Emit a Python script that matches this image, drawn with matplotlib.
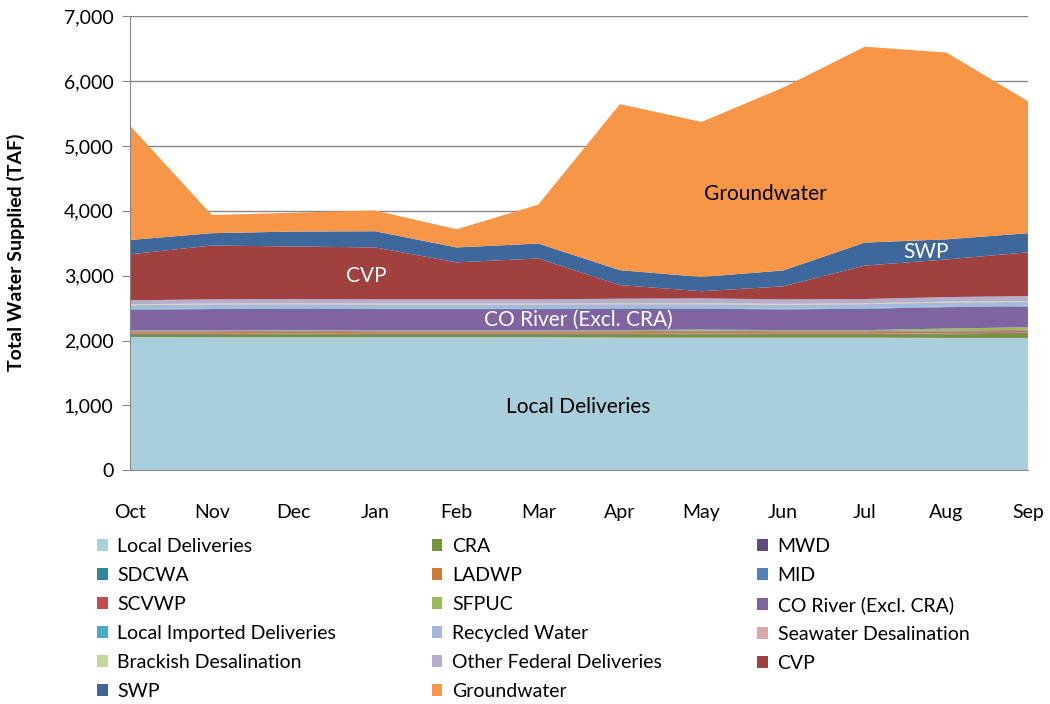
import matplotlib.pyplot as plt
import numpy as np

months = ["Oct", "Nov", "Dec", "Jan", "Feb", "Mar", "Apr", "May", "Jun", "Jul", "Aug", "Sep"]

# monthly supply by source (TAF)
local_deliveries = [2055, 2050, 2050, 2050, 2050, 2050, 2045, 2045, 2045, 2045, 2040, 2040]
cra = [35, 40, 45, 40, 40, 40, 45, 50, 45, 45, 55, 65]
mwd = [10, 10, 10, 10, 10, 10, 10, 10, 10, 10, 10, 10]
sdcwa = [5, 5, 5, 5, 5, 5, 5, 5, 5, 5, 5, 5]
ladwp = [25, 25, 25, 25, 25, 25, 25, 25, 25, 25, 30, 30]
mid = [10, 10, 10, 10, 10, 10, 10, 10, 10, 10, 10, 10]
scvwp = [5, 5, 5, 5, 5, 5, 5, 5, 5, 5, 5, 5]
sfpuc = [10, 10, 10, 10, 10, 10, 15, 20, 15, 15, 30, 40]
co_river = [320, 330, 330, 330, 330, 330, 330, 320, 320, 330, 330, 320]
local_imported = [10, 10, 10, 10, 10, 10, 10, 10, 10, 10, 10, 10]
recycled = [60, 60, 60, 60, 60, 60, 60, 60, 60, 60, 60, 60]
seawater = [5, 5, 5, 5, 5, 5, 5, 5, 5, 5, 5, 5]
brackish = [10, 10, 10, 10, 10, 10, 10, 10, 10, 10, 10, 10]
other_federal = [60, 65, 65, 65, 65, 65, 70, 75, 70, 65, 70, 75]
cvp = [710, 830, 810, 800, 570, 630, 210, 110, 200, 515, 580, 675]
swp = [220, 190, 230, 250, 230, 230, 230, 220, 245, 355, 310, 295]
groundwater = [1760, 280, 290, 320, 280, 600, 2560, 2390, 2820, 3020, 2880, 2035]

series = [local_deliveries, cra, mwd, sdcwa, ladwp, mid, scvwp, sfpuc, co_river,
          local_imported, recycled, seawater, brackish, other_federal, cvp, swp, groundwater]
names = ["Local Deliveries", "CRA", "MWD", "SDCWA", "LADWP", "MID", "SCVWP", "SFPUC",
         "CO River (Excl. CRA)", "Local Imported Deliveries", "Recycled Water",
         "Seawater Desalination", "Brackish Desalination", "Other Federal Deliveries",
         "CVP", "SWP", "Groundwater"]
colors = ["#A9CEDC", "#77933C", "#604A7B", "#31859C", "#CC7A36", "#4F81BD", "#C0504D",
          "#9BBB59", "#8064A2", "#4BACC6", "#A7B9DA", "#D9A8A7", "#C3D69B", "#B7ADCC",
          "#A0413F", "#3E679B", "#F79646"]

plt.rcParams['font.family'] = ['Lato', 'DejaVu Sans']

fig = plt.figure(figsize=(10.5, 7.04), dpi=100)
ax = fig.add_axes([0.124, 0.332, 0.855, 0.645])

x = np.arange(len(months))
ax.stackplot(x, *series, colors=colors, labels=names, linewidth=0)

ax.set_xlim(0, len(months) - 1)
ax.set_ylim(0, 7000)
ax.set_yticks(range(0, 7001, 1000))
ax.set_yticklabels([f"{v:,}" for v in range(0, 7001, 1000)], fontsize=14)
ax.set_xticks(x)
ax.set_xticklabels(months, fontsize=14)
ax.tick_params(axis='x', length=0, pad=24)
ax.tick_params(axis='y', length=6, color="#888888", direction='out', pad=6)
ax.grid(axis='y', color="#888888", linewidth=1)
ax.set_axisbelow(True)
for s in ["top", "right"]:
    ax.spines[s].set_visible(False)
ax.spines["left"].set_color("#888888")
ax.spines["bottom"].set_color("#888888")
ax.set_ylabel("Total Water Supplied (TAF)", fontsize=14, fontweight="bold")
ax.yaxis.set_label_coords(-0.117, 0.48)

ax.text(7.78, 4255, "Groundwater", fontsize=15, ha="center", va="center", color="black")
ax.text(2.89, 2990, "CVP", fontsize=15, ha="center", va="center", color="white")
ax.text(9.75, 3360, "SWP", fontsize=15, ha="center", va="center", color="white")
ax.text(5.49, 2313, "CO River (Excl. CRA)", fontsize=15, ha="center", va="center", color="white")
ax.text(5.49, 970, "Local Deliveries", fontsize=15, ha="center", va="center", color="black")

# legend reads row by row, matplotlib fills column by column
order = [0, 3, 6, 9, 12, 15, 1, 4, 7, 10, 13, 16, 2, 5, 8, 11, 14]
handles, labels = ax.get_legend_handles_labels()
fig.legend([handles[i] for i in order], [labels[i] for i in order],
           loc="upper left", bbox_to_anchor=(0.085, 0.247), ncol=3, frameon=False,
           fontsize=14, handlelength=0.55, handleheight=0.55, handletextpad=0.5,
           columnspacing=4.9, labelspacing=0.62, borderaxespad=0)

fig.savefig("out.png", dpi=100)
